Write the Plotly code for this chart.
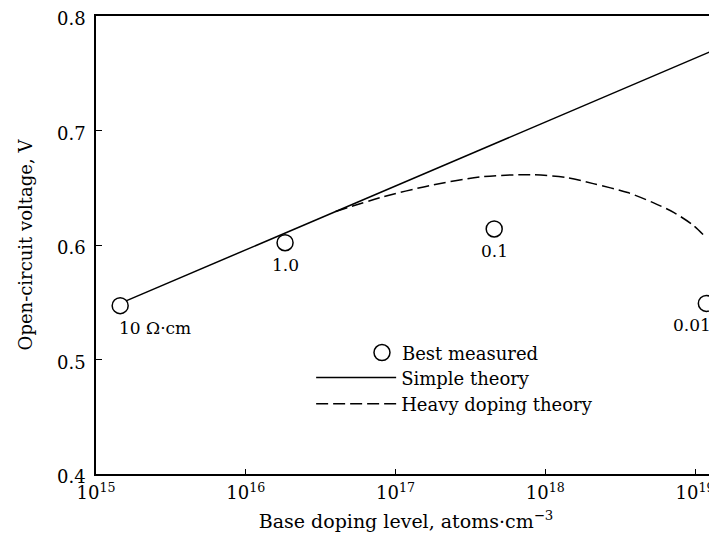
import math
import plotly.graph_objects as go

# Best measured cells
meas_doping = [1.45e15, 1.83e16, 4.56e17, 1.19e19]
meas_voc = [0.547, 0.602, 0.614, 0.549]
meas_labels = ["10 Ω·cm", "1.0", "0.1", "0.01"]

# Simple theory
simple_doping = [1.45e15, 1.30e19]
simple_voc = [0.549, 0.7695]

# Heavy doping theory
heavy_doping = [3.98e16, 7.94e16, 1.70e17, 3.72e17, 7.94e17, 1.41e18,
                2.09e18, 3.55e18, 5.25e18, 7.24e18, 9.77e18, 1.20e19]
heavy_voc = [0.6293, 0.6414, 0.652, 0.6595, 0.6614, 0.6588,
             0.6536, 0.6458, 0.637, 0.6283, 0.617, 0.6057]

x_tickvals = [1e15, 1e16, 1e17, 1e18, 1e19]
x_ticktext = ["10<sup>15</sup>", "10<sup>16</sup>", "10<sup>17</sup>",
              "10<sup>18</sup>", "10<sup>19</sup>"]
y_tickvals = [0.4, 0.5, 0.6, 0.7, 0.8]
y_ticktext = ["0.4", "0.5", "0.6", "0.7", "0.8"]

FONT = "DejaVu Serif, serif"

fig = go.Figure()
fig.add_trace(go.Scatter(
    x=simple_doping, y=simple_voc, mode="lines", name="Simple theory",
    line=dict(color="black", width=1.5), legend="legend2", legendrank=1))
fig.add_trace(go.Scatter(
    x=heavy_doping, y=heavy_voc, mode="lines", name="Heavy doping theory",
    line=dict(color="black", width=1.5, dash="12px,5px", shape="spline",
              smoothing=0.8),
    legend="legend2", legendrank=2))
fig.add_trace(go.Scatter(
    x=meas_doping, y=meas_voc, mode="markers", name="Best measured",
    marker=dict(symbol="circle", size=16, color="white",
                line=dict(color="black", width=1.5)),
    legend="legend"))

label_shift = [(35, -22), (0, -22), (0, -22), (-14, -22)]
for xv, yv, t, (dx, dy) in zip(meas_doping, meas_voc, meas_labels, label_shift):
    fig.add_annotation(x=math.log10(xv), y=yv, xref="x", yref="y", text=t,
                       showarrow=False, xshift=dx, yshift=dy,
                       font=dict(size=17, color="black", family=FONT))

fig.update_xaxes(
    type="log", range=[15, 19.14], tickvals=x_tickvals, ticktext=x_ticktext,
    ticks="inside", ticklen=5, tickwidth=1.2, tickcolor="black",
    showline=True, linecolor="black", linewidth=1.5, mirror=True,
    showgrid=False, zeroline=False, automargin=False, ticklabelstandoff=2,
    ticklabeloverflow="allow",
    tickfont=dict(size=18, family=FONT, color="black"),
    title=dict(text="Base doping level, atoms·cm<sup>−3</sup>",
               font=dict(size=19, family=FONT, color="black"), standoff=12))
fig.update_yaxes(
    range=[0.4, 0.8], tickvals=y_tickvals, ticktext=y_ticktext,
    ticks="inside", ticklen=6, tickwidth=1.2, tickcolor="black",
    showline=True, linecolor="black", linewidth=1.5, mirror=True,
    showgrid=False, zeroline=False, automargin=False, ticklabelstandoff=5,
    ticklabeloverflow="allow", ticklabelshift=3,
    tickfont=dict(size=18, family=FONT, color="black"),
    title=dict(text="Open-circuit voltage, V",
               font=dict(size=18, family=FONT, color="black"), standoff=20))

fig.update_layout(
    width=709, height=536,
    margin=dict(l=88, r=1, t=8, b=70),
    paper_bgcolor="white", plot_bgcolor="white",
    font=dict(family=FONT, color="black"),
    showlegend=True,
    legend=dict(x=0.429, y=0.305, xanchor="left", yanchor="top",
                bgcolor="rgba(0,0,0,0)", borderwidth=0,
                font=dict(size=18, family=FONT, color="black"),
                itemwidth=30),
    legend2=dict(x=0.347, y=0.2505, xanchor="left", yanchor="top",
                 bgcolor="rgba(0,0,0,0)", borderwidth=0,
                 font=dict(size=18, family=FONT, color="black"),
                 itemwidth=80, tracegroupgap=0),
)

fig.write_html("out.html")
